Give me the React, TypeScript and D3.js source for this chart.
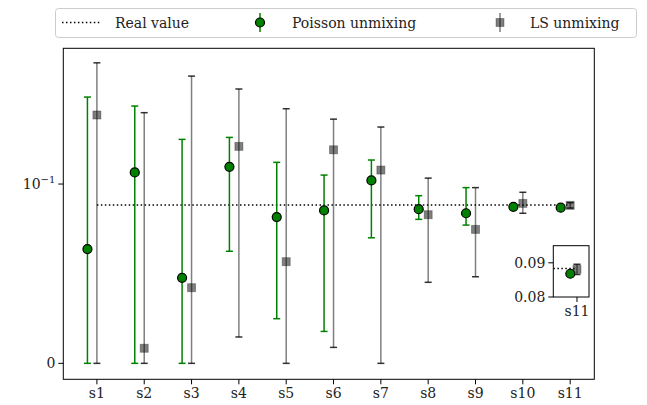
import React from "react";
import * as d3 from "d3";

const categories = ["s1", "s2", "s3", "s4", "s5", "s6", "s7", "s8", "s9", "s10", "s11"];
const poissonVal = [0.0637, 0.1065, 0.0477, 0.1096, 0.0816, 0.0853, 0.102, 0.086, 0.0837, 0.0873, 0.0868];
const poissonLow = [0, 0, 0, 0.0625, 0.0249, 0.0178, 0.07, 0.0803, 0.0771, 0.0868, 0.0863];
const poissonHigh = [0.1485, 0.1435, 0.1249, 0.126, 0.1121, 0.105, 0.1134, 0.0935, 0.098, 0.0878, 0.0873];
const lsVal = [0.1385, 0.0084, 0.0422, 0.121, 0.0567, 0.1191, 0.1078, 0.0829, 0.0747, 0.0892, 0.0881];
const lsLow = [0, 0, 0, 0.0147, 0, 0.0089, 0, 0.0452, 0.0483, 0.0837, 0.0866];
const lsHigh = [0.1676, 0.1398, 0.1602, 0.153, 0.142, 0.1362, 0.1318, 0.1033, 0.098, 0.0954, 0.0896];
const realValue = 0.0883;
const poissonOffset = -0.2;
const insetTicks = [0.08, 0.09];
const insetLabels = ["0.08", "0.09"];

const FONT = "'DejaVu Serif', serif";
const GREEN = "#008000";

export default function App() {
  const W = 647, H = 405;
  const left = 63.3, right = 594.3, top = 48.3, bottom = 379.3;
  const x = d3.scaleLinear().domain([-0.71, 10.51]).range([left, right]);
  const y = d3.scaleLinear().domain([-0.0089, 0.1757]).range([bottom, top]);

  const iL = 553.3, iR = 589, iT = 245.7, iB = 297;
  const ix = d3.scaleLinear().domain([9.29, 10.36]).range([iL, iR]);
  const iy = d3.scaleLinear().domain([0.08, 0.095]).range([iB, iT]);

  const capW = 3.5;
  const fs = 14;

  const drawSeries = (xs: any, ys: any, idxs: number[], keyp: string) => (
    <g>
      {idxs.map((i) => {
        const lx = xs(i);
        return (
          <g key={keyp + "ls" + i}>
            <line x1={lx} x2={lx} y1={ys(lsLow[i])} y2={ys(lsHigh[i])} stroke="#000" strokeOpacity={0.5} strokeWidth={1.5} />
            <line x1={lx - capW} x2={lx + capW} y1={ys(lsLow[i])} y2={ys(lsLow[i])} stroke="#000" strokeOpacity={0.8} strokeWidth={1.5} />
            <line x1={lx - capW} x2={lx + capW} y1={ys(lsHigh[i])} y2={ys(lsHigh[i])} stroke="#000" strokeOpacity={0.8} strokeWidth={1.5} />
            <rect x={lx - 4} y={ys(lsVal[i]) - 4} width={8} height={8} fill="#000" fillOpacity={0.5} stroke="#000" strokeOpacity={0.3} strokeWidth={1} />
          </g>
        );
      })}
      {idxs.map((i) => {
        const px = xs(i + poissonOffset);
        return (
          <g key={keyp + "p" + i}>
            <line x1={px} x2={px} y1={ys(poissonLow[i])} y2={ys(poissonHigh[i])} stroke={GREEN} strokeWidth={1.5} />
            <line x1={px - capW} x2={px + capW} y1={ys(poissonLow[i])} y2={ys(poissonLow[i])} stroke={GREEN} strokeWidth={1.5} />
            <line x1={px - capW} x2={px + capW} y1={ys(poissonHigh[i])} y2={ys(poissonHigh[i])} stroke={GREEN} strokeWidth={1.5} />
            <circle cx={px} cy={ys(poissonVal[i])} r={4.5} fill={GREEN} stroke="#000" strokeWidth={1.2} />
          </g>
        );
      })}
    </g>
  );

  const idxAll = categories.map((_, i) => i);

  return (
    <svg width={W} height={H} style={{ position: "absolute", left: 0, top: 0, background: "#fff" }} fontFamily={FONT}>
      <rect x={0} y={0} width={W} height={H} fill="#fff" />
      {/* real value line */}
      <line x1={x(0)} x2={x(10)} y1={y(realValue)} y2={y(realValue)} stroke="#000" strokeWidth={1.5} strokeDasharray="1.5 2.475" />
      {drawSeries(x, y, idxAll, "m")}
      {/* axes frame */}
      <rect x={left} y={top} width={right - left} height={bottom - top} fill="none" stroke="#000" strokeWidth={1} />
      {/* x ticks */}
      {categories.map((c, i) => (
        <g key={"xt" + i}>
          <line x1={x(i)} x2={x(i)} y1={bottom} y2={bottom + 5} stroke="#000" />
          <text x={x(i)} y={bottom + 19} textAnchor="middle" fontSize={fs} fill="#222">{c}</text>
        </g>
      ))}
      {/* y ticks */}
      <line x1={left - 5} x2={left} y1={y(0)} y2={y(0)} stroke="#000" />
      <text x={left - 8} y={y(0) + 5} textAnchor="end" fontSize={fs} fill="#222">0</text>
      <line x1={left - 5} x2={left} y1={y(0.1)} y2={y(0.1)} stroke="#000" />
      <text x={left - 8} y={y(0.1) + 5} textAnchor="end" fontSize={fs} fill="#222">
        10<tspan dy={-6} fontSize={10}>−1</tspan>
      </text>

      {/* inset */}
      <defs>
        <clipPath id="insetClip">
          <rect x={iL} y={iT} width={iR - iL} height={iB - iT} />
        </clipPath>
      </defs>
      <rect x={iL} y={iT} width={iR - iL} height={iB - iT} fill="#fff" />
      <g clipPath="url(#insetClip)">
        <line x1={ix(0)} x2={ix(10)} y1={iy(realValue)} y2={iy(realValue)} stroke="#000" strokeWidth={1.5} strokeDasharray="1.5 2.475" />
        {drawSeries(ix, iy, [10], "i")}
      </g>
      <rect x={iL} y={iT} width={iR - iL} height={iB - iT} fill="none" stroke="#000" strokeWidth={1} />
      {insetTicks.map((t, k) => (
        <g key={"it" + k}>
          <line x1={iL - 5} x2={iL} y1={iy(t)} y2={iy(t)} stroke="#000" />
          <text x={iL - 8} y={iy(t) + 5} textAnchor="end" fontSize={fs} fill="#222">{insetLabels[k]}</text>
        </g>
      ))}
      <line x1={ix(10)} x2={ix(10)} y1={iB} y2={iB + 5} stroke="#000" />
      <text x={ix(10)} y={iB + 19} textAnchor="middle" fontSize={fs} fill="#222">{categories[10]}</text>

      {/* legend */}
      <rect x={55.5} y={8.5} width={581} height={29} rx={3} fill="#fff" fillOpacity={0.8} stroke="#ccc" strokeWidth={1} />
      <line x1={62} x2={100} y1={22.5} y2={22.5} stroke="#000" strokeWidth={1.5} strokeDasharray="1.5 2.475" />
      <text x={115} y={27.5} fontSize={fs} fill="#222">Real value</text>
      <line x1={260} x2={260} y1={13} y2={32} stroke={GREEN} strokeWidth={1.5} />
      <circle cx={260} cy={22.5} r={4.5} fill={GREEN} stroke="#000" strokeWidth={1.2} />
      <text x={292} y={27.5} fontSize={fs} fill="#222">Poisson unmixing</text>
      <line x1={500} x2={500} y1={13} y2={32} stroke="#000" strokeOpacity={0.5} strokeWidth={1.5} />
      <rect x={496} y={18.5} width={8} height={8} fill="#000" fillOpacity={0.5} stroke="#000" strokeOpacity={0.3} />
      <text x={530} y={27.5} fontSize={fs} fill="#222">LS unmixing</text>
    </svg>
  );
}
